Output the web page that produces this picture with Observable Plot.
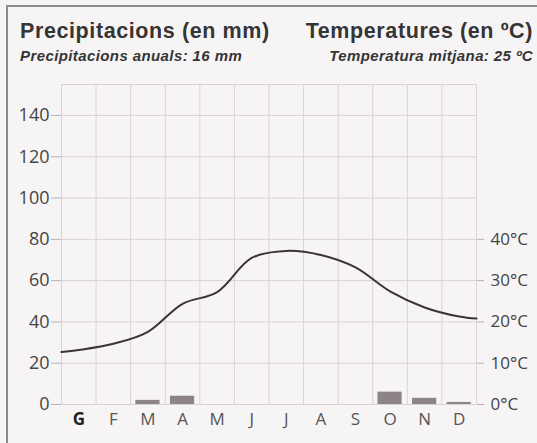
<!DOCTYPE html>
<html>
<head>
<meta charset="utf-8">
<script src="https://cdn.jsdelivr.net/npm/d3@7"></script>
<script src="https://cdn.jsdelivr.net/npm/@observablehq/plot@0.6"></script>
<style>
  html, body { margin: 0; padding: 0; background: #ffffff; }
  #page { position: relative; width: 537px; height: 443px; background: #f7f4f6; overflow: hidden; }
  #frame { position: absolute; left: 6px; top: 5px; width: 540px; height: 450px;
           border-left: 2px solid #8c8a8c; border-top: 2px solid #8c8a8c; }
  .t { position: absolute; font-family: "Liberation Sans", Arial, sans-serif; color: #353535; white-space: nowrap; }
  .title { font-weight: bold; font-size: 21.5px; line-height: 22px; letter-spacing: 0.6px; top: 20px; }
  .sub { font-weight: bold; font-style: italic; font-size: 15px; line-height: 15px; letter-spacing: 0.4px; top: 48px; }
  #chart { position: absolute; left: 0; top: 70px; }
</style>
</head>
<body>
<div id="page">
  <div id="frame"></div>
  <div class="t title" style="left:20px">Precipitacions (en mm)</div>
  <div class="t title" style="right:4px">Temperatures (en ºC)</div>
  <div class="t sub" style="left:20px">Precipitacions anuals: 16 mm</div>
  <div class="t sub" style="right:4px">Temperatura mitjana: 25 ºC</div>
  <div id="chart"></div>
</div>
<script>
const months = ["G","F","M","A","M","J","J","A","S","O","N","D"];
const precip = [0, 0, 2, 4, 0, 0, 0, 0, 0, 6, 3, 1];
const temp = [13.2, 14.7, 17.6, 24.4, 27.2, 35.5, 37.2, 36.2, 33.2, 27.4, 23.5, 21.3];
const tempEdges = [12.7, 20.8]; // curve value at the left and right edges
const precipTicks = [0, 20, 40, 60, 80, 100, 120, 140];
const tempTicks = [0, 10, 20, 30, 40];

const bars = months.map((m, i) => ({i, m, p: precip[i]})).filter(d => d.p > 0);
const lineData = [{x: 0, t: tempEdges[0]}]
  .concat(temp.map((t, i) => ({x: i + 0.5, t})))
  .concat([{x: 12, t: tempEdges[1]}]);

const grid = "#d9d2d7";
const chart = Plot.plot({
  width: 537,
  height: 373,
  marginTop: 14,
  marginBottom: 39,
  marginLeft: 61,
  marginRight: 61,
  style: {fontFamily: "'Open Sans', sans-serif", background: "transparent", overflow: "visible"},
  x: {domain: [0, 12], axis: null},
  y: {domain: [0, 155], axis: null},
  marks: [
    Plot.ruleY(precipTicks, {stroke: grid, strokeWidth: 1}),
    Plot.ruleY([155], {stroke: grid, strokeWidth: 1}),
    Plot.ruleX(d3.range(13), {y1: 0, y2: 155, stroke: grid, strokeWidth: 1}),
    Plot.rectY(bars, {x1: d => d.i + 0.15, x2: d => d.i + 0.85, y: "p", fill: "#8d8489"}),
    Plot.line(lineData, {x: "x", y: d => d.t * 2, curve: "catmull-rom", stroke: "#3a3436", strokeWidth: 2}),
    Plot.axisY({anchor: "left", ticks: precipTicks, tickSize: 10, tickPadding: 2, label: null,
      stroke: "#b9b1b6", fill: "#444", fontSize: 18}),
    Plot.axisY({anchor: "right", ticks: tempTicks.map(t => t * 2), tickFormat: d => (d / 2) + "°C",
      tickSize: 7, tickPadding: 7, label: null, stroke: "#b9b1b6", fill: "#444", fontSize: 17}),
    Plot.axisX({ticks: months.map((m, i) => i + 0.5), tickFormat: (d) => months[Math.floor(d)],
      tickSize: 0, tickPadding: 8, label: null, fill: "#555", fontSize: 17})
  ]
});
document.getElementById("chart").appendChild(chart);
const xlabels = d3.select(chart).selectAll('[aria-label="x-axis tick label"] text');
xlabels.filter((d, i) => i === 0).attr("font-weight", "bold").attr("fill", "#222");
</script>
</body>
</html>
